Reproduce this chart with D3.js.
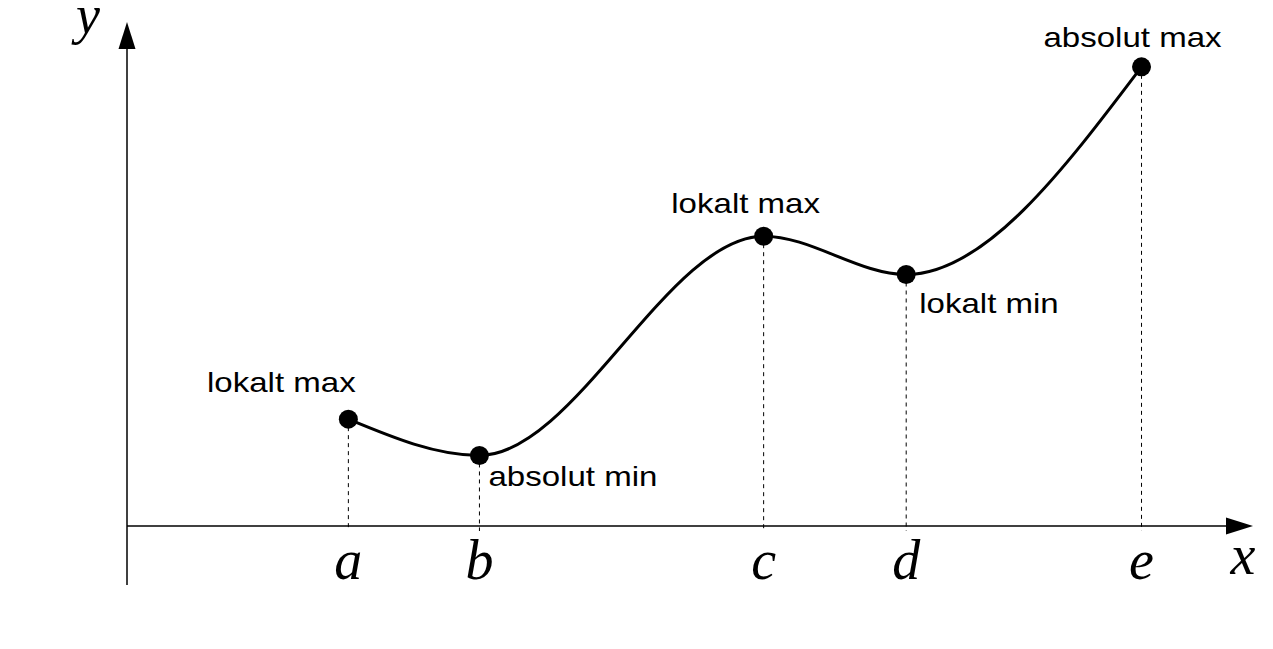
<!DOCTYPE html>
<html>
<head>
<meta charset="utf-8">
<script src="https://cdn.jsdelivr.net/npm/d3@7"></script>
<style>
  html, body { margin: 0; padding: 0; background: #fff; }
  svg { display: block; }
</style>
</head>
<body>
<script>
// ---- data ----
const pointNames = ["a", "b", "c", "d", "e"];
const xValues = [1.966, 3.13, 5.654, 6.92, 9.01];
const yValues = [2.12, 1.40, 5.75, 4.99, 9.11];
const annotations = ["lokalt max", "absolut min", "lokalt max", "lokalt min", "absolut max"];
const axisLabels = ["x", "y"];

const W = 1273, H = 649;
const svg = d3.select("body").append("svg").attr("width", W).attr("height", H);

const x = d3.scaleLinear().domain([0, 10]).range([127, 1253]);
const y = d3.scaleLinear().domain([0, 10]).range([526, 22]);

const pts = xValues.map((v, i) => ({ x: v, y: yValues[i], name: pointNames[i], note: annotations[i] }));

// axes
svg.append("line").attr("x1", x(0)).attr("x2", x(10) - 20).attr("y1", y(0)).attr("y2", y(0))
  .attr("stroke", "#000").attr("stroke-width", 1.5);
svg.append("line").attr("x1", x(0)).attr("x2", x(0)).attr("y1", y(0) + 59).attr("y2", y(10) + 20)
  .attr("stroke", "#000").attr("stroke-width", 1.5);
// arrowheads
svg.append("path")
  .attr("d", `M${x(10)},${y(0)} L${x(10) - 27},${y(0) - 8.5} L${x(10) - 27},${y(0) + 8.5} Z`)
  .attr("fill", "#000");
svg.append("path")
  .attr("d", `M${x(0)},${y(10)} L${x(0) - 8.5},${y(10) + 27} L${x(0) + 8.5},${y(10) + 27} Z`)
  .attr("fill", "#000");

// dashed drop lines
svg.selectAll("line.drop").data(pts).enter().append("line")
  .attr("class", "drop")
  .attr("x1", d => x(d.x)).attr("x2", d => x(d.x))
  .attr("y1", d => y(d.y)).attr("y2", y(0) + 5)
  .attr("stroke", "#000").attr("stroke-width", 1).attr("stroke-dasharray", "4,4");

// curve
const line = d3.line().x(d => x(d.x)).y(d => y(d.y)).curve(d3.curveMonotoneX);
svg.append("path").datum(pts).attr("d", line)
  .attr("fill", "none").attr("stroke", "#000").attr("stroke-width", 3);

// points
svg.selectAll("circle").data(pts).enter().append("circle")
  .attr("cx", d => x(d.x)).attr("cy", d => y(d.y)).attr("r", 9.5).attr("fill", "#000");

// point names on x axis
svg.selectAll("text.name").data(pts).enter().append("text")
  .attr("class", "name")
  .attr("x", d => x(d.x)).attr("y", 579)
  .attr("text-anchor", "middle")
  .attr("font-family", "'Liberation Serif', 'Times New Roman', serif")
  .attr("font-style", "italic").attr("font-size", 56)
  .text(d => d.name);

// axis labels
svg.append("text").attr("x", 1243).attr("y", 574).attr("text-anchor", "middle")
  .attr("font-family", "'Liberation Serif', 'Times New Roman', serif")
  .attr("font-style", "italic").attr("font-size", 56).text(axisLabels[0]);
svg.append("text").attr("x", 88).attr("y", 33).attr("text-anchor", "middle")
  .attr("font-family", "'Liberation Serif', 'Times New Roman', serif")
  .attr("font-style", "italic").attr("font-size", 54).text(axisLabels[1]);

// annotations
const noteOffsets = [[-67, -27], [9, 31], [-18, -23], [13, 38], [-9, -20]];
const notes = svg.selectAll("text.note").data(pts).enter().append("text")
  .attr("class", "note")
  .attr("x", (d, i) => x(d.x) + noteOffsets[i][0])
  .attr("y", (d, i) => y(d.y) + noteOffsets[i][1])
  .attr("text-anchor", (d, i) => (i === 1 || i === 3) ? "start" : "middle")
  .attr("font-family", "'Liberation Sans', Arial, sans-serif")
  .attr("font-size", 28)
  .text(d => d.note);
notes.each(function () {
  const len = this.getComputedTextLength();
  d3.select(this).attr("textLength", len * 1.18).attr("lengthAdjust", "spacingAndGlyphs");
});
</script>
</body>
</html>
